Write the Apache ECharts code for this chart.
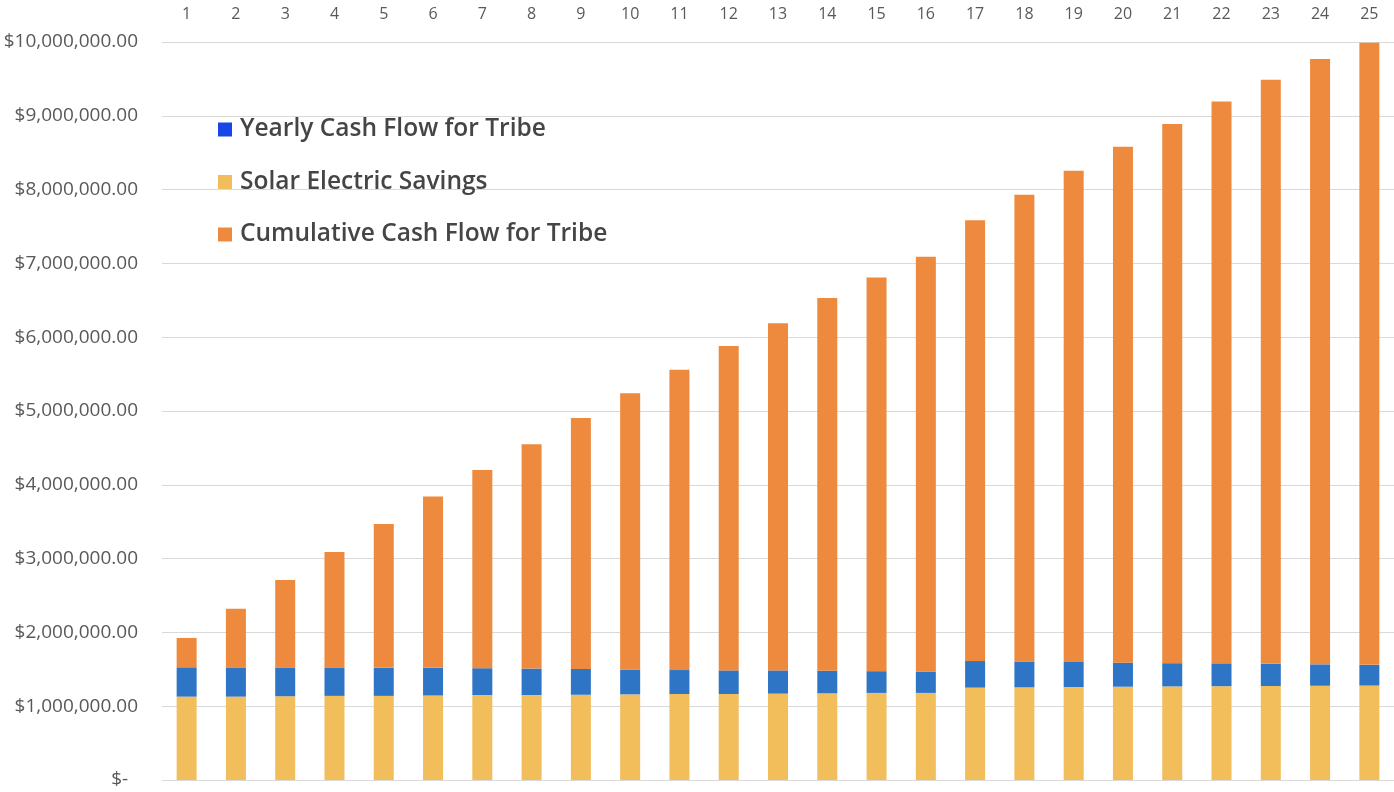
<!DOCTYPE html>
<html>
<head>
<meta charset="utf-8">
<script src="https://cdn.jsdelivr.net/npm/echarts@6/dist/echarts.min.js"></script>
<style>
html,body{margin:0;padding:0;background:#fff;}
#chart{width:1394px;height:792px;}
</style>
</head>
<body>
<div id="chart"></div>
<script>
const years = ['1','2','3','4','5','6','7','8','9','10','11','12','13','14','15','16','17','18','19','20','21','22','23','24','25'];
const solarElectricSavings = [1130000,1130000,1135000,1140000,1140000,1145000,1150000,1150000,1155000,1160000,1165000,1165000,1170000,1175000,1180000,1180000,1252000,1256000,1260000,1264000,1268000,1271000,1274000,1277000,1280000];
const yearlyCashFlow = [397000,395000,390000,385000,380000,375000,365000,360000,350000,335000,325000,320000,315000,305000,295000,288000,360000,350000,340000,325000,315000,310000,300000,290000,280000];
const cumulativeCashFlow = [398000,795000,1185000,1565000,1950000,2320000,2685000,3040000,3400000,3745000,4070000,4395000,4705000,5050000,5335000,5622000,5973000,6324000,6655000,6991000,7307000,7614000,7916000,8203000,8430000];
const yTicks = {min:0, max:10000000, interval:1000000};

const colors = {yearly:'#2e75c6', yearlyLegend:'#1847e6', solar:'#f2bd5b', cumulative:'#ee8a3e'};
const font = '"Open Sans", Lato, sans-serif';

const chart = echarts.init(document.getElementById('chart'));
chart.setOption({
  animation:false,
  grid:{left:162, right:0, top:42, bottom:12, containLabel:false},
  legend:{
    orient:'vertical', left:213, top:112,
    itemWidth:14, itemHeight:14, itemGap:27.5,
    icon:'rect',
    textStyle:{fontFamily:font, fontSize:24.5, color:'#454545', fontWeight:600, padding:[0,0,0,3]},
    data:[
      {name:'Yearly Cash Flow for Tribe', itemStyle:{color:colors.yearlyLegend}},
      {name:'Solar Electric Savings', itemStyle:{color:colors.solar}},
      {name:'Cumulative Cash Flow for Tribe', itemStyle:{color:colors.cumulative}}
    ]
  },
  xAxis:{
    type:'category', data:years, position:'top',
    axisLine:{show:false}, axisTick:{show:false},
    axisLabel:{fontFamily:font, fontSize:16, color:'#595959', margin:20}
  },
  yAxis:{
    type:'value', min:yTicks.min, max:yTicks.max, interval:yTicks.interval,
    axisLine:{show:false}, axisTick:{show:false},
    splitLine:{lineStyle:{color:'#d9d9d9', width:1}},
    axisLabel:{
      fontFamily:font, fontSize:19, color:'#595959', margin:24,
      formatter:function(v){
        if(v===0) return '$-  ';
        return '$' + v.toLocaleString('en-US',{minimumFractionDigits:2, maximumFractionDigits:2});
      }
    }
  },
  series:[
    {name:'Solar Electric Savings', type:'bar', stack:'a', barWidth:20, data:solarElectricSavings, itemStyle:{color:colors.solar}},
    {name:'Yearly Cash Flow for Tribe', type:'bar', stack:'a', barWidth:20, data:yearlyCashFlow, itemStyle:{color:colors.yearly}},
    {name:'Cumulative Cash Flow for Tribe', type:'bar', stack:'a', barWidth:20, data:cumulativeCashFlow, itemStyle:{color:colors.cumulative}}
  ]
});
</script>
</body>
</html>
